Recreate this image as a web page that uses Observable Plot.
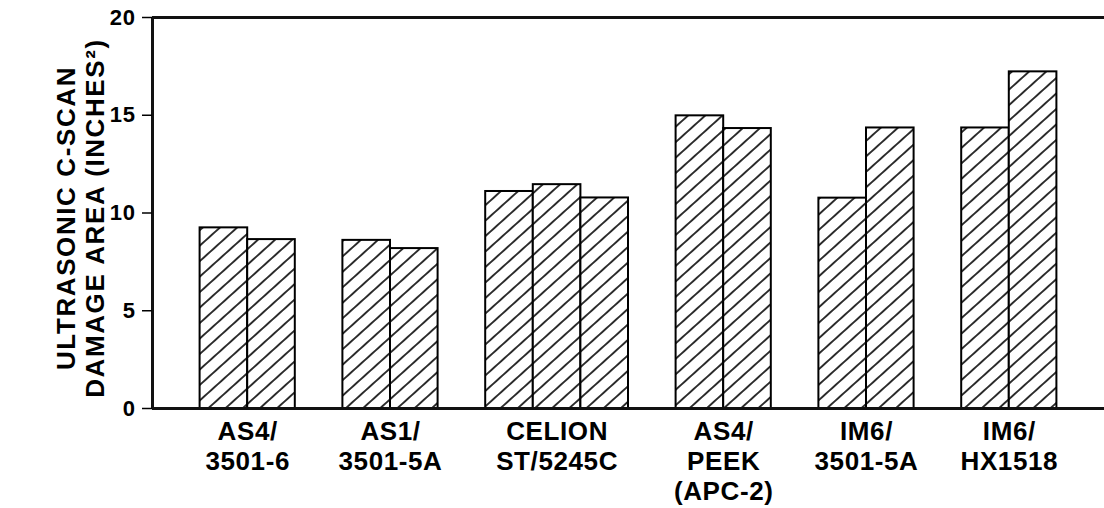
<!DOCTYPE html>
<html><head><meta charset="utf-8">
<script src="https://cdn.jsdelivr.net/npm/d3@7"></script>
<script src="https://cdn.jsdelivr.net/npm/@observablehq/plot@0.6"></script>
<style>
html,body{margin:0;padding:0;background:#fff;}
svg text{letter-spacing:0.6px}
svg g[aria-description="ytitle"] text{letter-spacing:1.6px}
</style></head><body><div id="chart"></div>
<script>
const categories = ["AS4/\n3501-6", "AS1/\n3501-5A", "CELION\nST/5245C", "AS4/\nPEEK\n(APC-2)", "IM6/\n3501-5A", "IM6/\nHX1518"];
const damageArea = [
  [9.24, 8.64],
  [8.60, 8.18],
  [11.10, 11.45, 10.77],
  [14.97, 14.32],
  [10.76, 14.35],
  [14.35, 17.22]
];
const yTicks = [0, 5, 10, 15, 20];
const yTitle = "ULTRASONIC C-SCAN\nDAMAGE AREA (INCHES²)";

// layout: one empty slot before each group, one slot per bar, one trailing slot
const bars = [], groups = [];
let slot = 0;
categories.forEach((c, i) => {
  slot += 1;
  const start = slot;
  damageArea[i].forEach((v, j) => { bars.push({category: c, index: j, x1: slot, x2: slot + 1, value: v}); slot += 1; });
  groups.push({category: c, center: (start + slot) / 2});
});
const totalSlots = slot + 1;

const chart = Plot.plot({
  width: 1104, height: 508,
  marginLeft: 152, marginRight: 0, marginTop: 17, marginBottom: 100,
  x: {domain: [0, totalSlots], axis: null},
  y: {domain: [0, 20], axis: null},
  style: {fontFamily: "'Liberation Sans', Arial, sans-serif", background: "#fff", color: "#000"},
  marks: [
    Plot.rect(bars, {x1: "x1", x2: "x2", y1: 0, y2: "value", fill: "url(#hatch)", stroke: "#000", strokeWidth: 2}),
    Plot.ruleY([0, 20], {stroke: "#111", strokeWidth: 3}),
    Plot.ruleX([0], {stroke: "#111", strokeWidth: 3}),
    Plot.axisY({ticks: yTicks, label: null, tickSize: 10, tickPadding: 7, fontSize: 22, fontWeight: "bold", strokeWidth: 1.5, tickFormat: d => String(d)}),
    Plot.text(groups, {x: "center", y: 0, text: "category", lineAnchor: "top", dy: 10, fontSize: 26, fontWeight: "bold", lineHeight: 1.15}),
    Plot.text([yTitle], {frameAnchor: "left", textAnchor: "middle", lineAnchor: "middle", text: d => d, rotate: -90, dx: -72, dy: 5, fontSize: 26, fontWeight: "bold", lineHeight: 1.12, ariaDescription: "ytitle"})
  ]
});

const ns = "http://www.w3.org/2000/svg";
const defs = document.createElementNS(ns, "defs");
const pat = document.createElementNS(ns, "pattern");
pat.setAttribute("id", "hatch");
pat.setAttribute("patternUnits", "userSpaceOnUse");
pat.setAttribute("width", "12");
pat.setAttribute("height", "11.5");
pat.setAttribute("patternTransform", "rotate(-42)");
const bg = document.createElementNS(ns, "rect");
bg.setAttribute("width", "12"); bg.setAttribute("height", "11.5"); bg.setAttribute("fill", "#fff");
const ln = document.createElementNS(ns, "line");
ln.setAttribute("x1", "0"); ln.setAttribute("x2", "12"); ln.setAttribute("y1", "5.75"); ln.setAttribute("y2", "5.75");
ln.setAttribute("stroke", "#000"); ln.setAttribute("stroke-width", "1.6");
pat.appendChild(bg); pat.appendChild(ln); defs.appendChild(pat);
chart.insertBefore(defs, chart.firstChild);
document.getElementById("chart").appendChild(chart);
</script></body></html>
